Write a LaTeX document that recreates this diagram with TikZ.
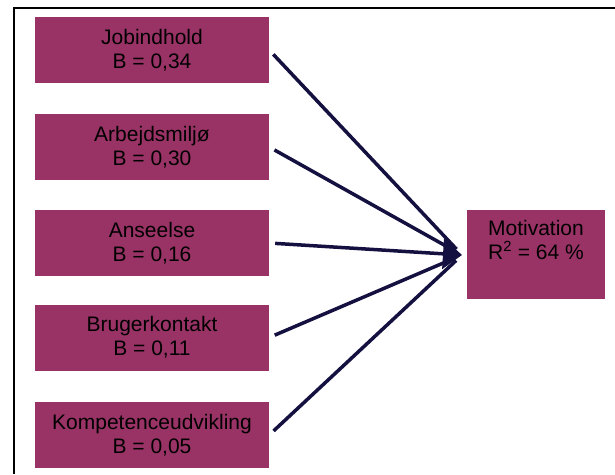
\documentclass[tikz,border=0pt]{standalone}
\usepackage{fontspec}
\setmainfont{Liberation Sans}
\usetikzlibrary{arrows.meta}
\definecolor{plum}{RGB}{153,51,102}
\definecolor{navy}{RGB}{20,16,64}
\tikzset{
  factor/.style={fill=plum, minimum width=234pt, minimum height=66pt, inner sep=0pt, align=center, font=\fontsize{21}{24.4}\selectfont},
  effect/.style={line width=3.5pt, draw=navy},
}
\begin{document}
\begin{tikzpicture}[x=1pt,y=-1pt]
  \useasboundingbox (0,0) rectangle (615,474);
  \draw[line width=2pt] (615,7.5) -- (14,7.5) -- (14,474);
  \node[factor, minimum width=138pt, minimum height=89pt](M)at(536,254.5){Motivation\\R\textsuperscript{2} = 64 \%\rule[-29.6pt]{0pt}{0pt}};
  \coordinate (tip) at (462,255);
  \foreach \x/\y/\t/\b in {1/50/Jobindhold/{0,34},2/147/Arbejdsmiljø/{0,30},3/243/Anseelse/{0,16},4/337.5/Brugerkontakt/{0,11},5/435/Kompetenceudvikling/{0,05}}{
    \node[factor](N\x)at(152,\y){\t\\B = \b};
    \ifnum\x=3
      \draw[effect, shorten <=6pt, -{Triangle[length=19pt,width=30pt]}](N\x.east)--(tip);
    \else
      \draw[effect, shorten <=6pt, shorten >=8pt](N\x.east)--(tip);
    \fi
  }
\end{tikzpicture}
\end{document}
